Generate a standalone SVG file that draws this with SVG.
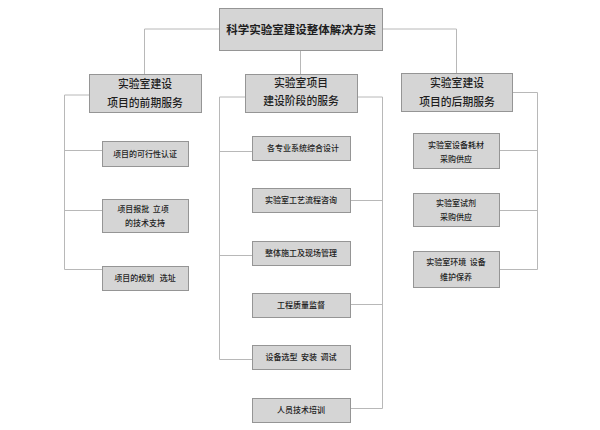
<svg xmlns="http://www.w3.org/2000/svg" width="600" height="430" viewBox="0 0 600 430">
<style>
.box{fill:#d5d5d5;stroke:#959595;stroke-width:1}
.ln{fill:none;stroke:#b8b8b8;stroke-width:1}
text{font-family:"Noto Sans CJK SC","Noto Sans",sans-serif;fill:#1e1e1e;text-anchor:middle}
.t0{font-size:11.5px;font-weight:bold}
.t1{font-size:10.8px;font-weight:500}
.t2{font-size:8px;font-weight:500}
</style>
<rect width="600" height="430" fill="#ffffff"/>
<g id="connectors">
<path class="ln" d="M219,29 H144.5 V74 M382,29 H456.5 V73 M300.5,50 V74"/>
<path class="ln" d="M89,95 H64.5 V269.5 H102 M64.5,150.5 H102 M64.5,210.5 H102"/>
<path class="ln" d="M245,97 H219.5 V359.5 H252 M219.5,151.5 H252 M219.5,255.5 H252"/>
<path class="ln" d="M357,97 H382.5 V408.5 H350 M382.5,200.5 H350 M382.5,304.5 H350"/>
<path class="ln" d="M512,92.5 H537.5 V269.5 H499 M537.5,150.5 H499 M537.5,210.5 H499"/>
</g>
<g id="root"><rect class="box" x="219.5" y="8.5" width="163" height="42"/><text class="t0" x="301" y="33.5">科学实验室建设整体解决方案</text></g>
<g id="pre"><rect class="box" x="89.5" y="74.5" width="112" height="38"/><text class="t1" x="145" y="88">实验室建设</text><text class="t1" x="145" y="107">项目的前期服务</text></g>
<g id="mid"><rect class="box" x="245.5" y="74.5" width="112" height="38"/><text class="t1" x="301" y="87">实验室项目</text><text class="t1" x="301" y="105">建设阶段的服务</text></g>
<g id="post"><rect class="box" x="401.5" y="73.5" width="111" height="38"/><text class="t1" x="457" y="87">实验室建设</text><text class="t1" x="457" y="106">项目的后期服务</text></g>
<g id="pre1"><rect class="box" x="102.5" y="141.5" width="86" height="25"/><text class="t2" x="145" y="157">项目的可行性认证</text></g>
<g id="pre2"><rect class="box" x="102.5" y="199.5" width="86" height="33"/><text class="t2" x="143" y="212" xml:space="preserve">项目报批  立项</text><text class="t2" x="145" y="226">的技术支持</text></g>
<g id="pre3"><rect class="box" x="102.5" y="266.5" width="86" height="24"/><text class="t2" x="145" y="281" xml:space="preserve">项目的规划   选址</text></g>
<g id="mid1"><rect class="box" x="252.5" y="136.5" width="98" height="24"/><text class="t2" x="303" y="151">各专业系统综合设计</text></g>
<g id="mid2"><rect class="box" x="252.5" y="188.5" width="98" height="24"/><text class="t2" x="301" y="203">实验室工艺流程咨询</text></g>
<g id="mid3"><rect class="box" x="252.5" y="241.5" width="98" height="24"/><text class="t2" x="301" y="256">整体施工及现场管理</text></g>
<g id="mid4"><rect class="box" x="252.5" y="293.5" width="98" height="24"/><text class="t2" x="301" y="308">工程质量监督</text></g>
<g id="mid5"><rect class="box" x="252.5" y="345.5" width="98" height="24"/><text class="t2" x="301" y="360" xml:space="preserve">设备选型  安装  调试</text></g>
<g id="mid6"><rect class="box" x="252.5" y="398.5" width="98" height="24"/><text class="t2" x="301" y="413">人员技术培训</text></g>
<g id="post1"><rect class="box" x="413.5" y="133.5" width="86" height="35"/><text class="t2" x="456" y="148">实验室设备耗材</text><text class="t2" x="456" y="162">采购供应</text></g>
<g id="post2"><rect class="box" x="413.5" y="193.5" width="86" height="33"/><text class="t2" x="456" y="206">实验室试剂</text><text class="t2" x="456" y="220">采购供应</text></g>
<g id="post3"><rect class="box" x="413.5" y="251.5" width="86" height="36"/><text class="t2" x="456" y="265" xml:space="preserve">实验室环境  设备</text><text class="t2" x="456" y="280">维护保养</text></g>
</svg>
